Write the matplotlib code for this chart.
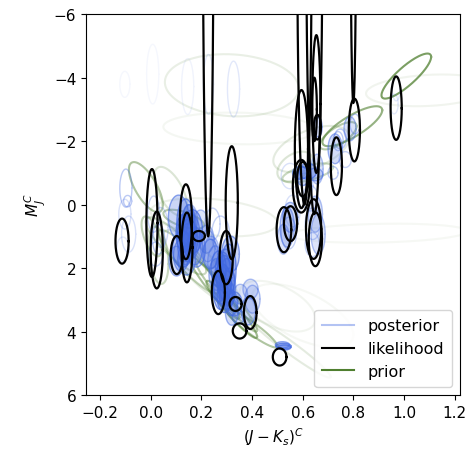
import numpy as np
import matplotlib
matplotlib.use("Agg")
import matplotlib.pyplot as plt
from matplotlib.lines import Line2D

# likelihood ellipses: centre and semi-axes in data units
like_cx = [-0.113, 0.005, 0.024, 0.103, 0.139, 0.143, 0.19, 0.227, 0.32, 0.267,
           0.298, 0.335, 0.393, 0.351, 0.509, 0.526, 0.552, 0.643, 0.65, 0.60,
           0.594, 0.595, 0.654, 0.646, 0.658, 0.733, 0.80, 0.804, 0.969, 0.607, 0.646]
like_cy = [1.15, 0.58, 1.43, 1.59, 0.54, 1.35, 0.99, -12.0, -0.06, 2.77,
           1.67, 3.13, 3.40, 3.98, 4.80, 0.79, 0.60, 0.77, 1.09, -0.80,
           -0.58, -1.75, -3.17, -3.0, -2.44, -1.21, -12.0, -2.35, -3.04, -8.0, -9.0]
like_sx = [0.026, 0.022, 0.024, 0.024, 0.024, 0.022, 0.024, 0.022, 0.024, 0.026,
           0.026, 0.024, 0.025, 0.027, 0.027, 0.029, 0.026, 0.03, 0.026, 0.022,
           0.033, 0.026, 0.016, 0.01, 0.014, 0.022, 0.012, 0.022, 0.022, 0.028, 0.032]
like_sy = [0.71, 1.70, 1.21, 0.60, 1.18, 1.10, 0.16, 13.0, 1.78, 0.68,
           0.84, 0.22, 0.52, 0.24, 0.27, 0.71, 0.55, 0.94, 0.85, 0.54,
           0.83, 1.86, 2.17, 1.0, 0.39, 0.91, 8.8, 0.99, 1.0, 8.0, 9.3]

# posterior ellipses
post_cx = [-0.098, -0.091, -0.102, -0.087, -0.110, 0.012, 0.031, 0.020, 0.039,
           0.110, 0.138, 0.150, 0.126, 0.102, 0.165, 0.142, 0.181, 0.197, 0.220,
           0.244, 0.276, 0.130, 0.145, 0.160, 0.120, 0.155, 0.175, 0.135, 0.150,
           0.236, 0.268, 0.283, 0.307, 0.315, 0.30, 0.331, 0.354, 0.386, 0.402,
           0.394, 0.346, 0.290, 0.275, 0.295, 0.318, 0.26, 0.285, 0.300, 0.270,
           0.310, 0.292, 0.320, 0.225, 0.240, 0.255,
           0.524, 0.528, 0.520,
           0.539, 0.551, 0.524, 0.590, 0.620, 0.600, 0.650, 0.630, 0.650, 0.661,
           0.638, 0.720, 0.740, 0.657, 0.661, 0.728, 0.748, 0.787, 0.807, 0.768,
           0.545, 0.550, 0.640, 0.560, 0.610,
           0.969, 0.961,
           0.008, 0.146, 0.228, 0.327, -0.102]
post_cy = [-0.52, -0.11, 0.30, 0.93, 1.40, 0.30, 1.09, 1.56, 0.72,
           0.39, 0.61, 1.09, 1.40, 1.78, 0.85, 1.72, 1.40, 0.61, 1.09,
           0.61, 0.93, 0.90, 1.20, 1.00, 1.60, 0.50, 1.30, 1.10, 0.80,
           1.56, 2.03, 2.50, 2.03, 1.56, 2.82, 3.13, 2.82, 3.35, 2.98,
           2.66, 3.54, 2.30, 2.70, 1.90, 3.10, 2.20, 2.10, 2.40, 2.55,
           2.60, 2.90, 3.40, 1.30, 1.50, 1.80,
           4.46, 4.50, 4.42,
           0.71, 0.40, 1.09, -1.00, -1.05, -0.90, -0.95, -0.20, 0.30, 0.93,
           1.26, -1.00, -2.00, -1.12, -2.44, -1.76, -2.07, -2.39, -2.54, -1.42,
           0.90, -0.90, 0.60, 0.20, -0.60,
           -3.65, -3.17,
           -4.11, -3.72, -3.79, -3.64, -3.79]
post_sx = [0.024, 0.016, 0.024, 0.028, 0.024, 0.024, 0.024, 0.028, 0.03,
           0.04, 0.035, 0.035, 0.04, 0.03, 0.04, 0.035, 0.035, 0.03, 0.03,
           0.03, 0.035, 0.03, 0.03, 0.035, 0.03, 0.03, 0.03, 0.03, 0.03,
           0.03, 0.03, 0.035, 0.03, 0.035, 0.03, 0.03, 0.028, 0.028, 0.03,
           0.03, 0.024, 0.03, 0.028, 0.03, 0.025, 0.03, 0.03, 0.03, 0.028,
           0.025, 0.03, 0.025, 0.03, 0.03, 0.03,
           0.03, 0.025, 0.028,
           0.028, 0.03, 0.024, 0.03, 0.035, 0.025, 0.03, 0.03, 0.028, 0.028,
           0.028, 0.02, 0.02, 0.024, 0.016, 0.028, 0.024, 0.024, 0.02, 0.024,
           0.03, 0.035, 0.03, 0.03, 0.03,
           0.016, 0.016,
           0.024, 0.024, 0.02, 0.024, 0.02]
post_sy = [0.60, 0.18, 0.47, 0.57, 0.38, 0.57, 0.47, 0.38, 0.63,
           0.69, 0.79, 0.63, 0.57, 0.47, 0.69, 0.50, 0.57, 0.44, 0.44,
           0.50, 0.57, 0.6, 0.6, 0.7, 0.5, 0.5, 0.6, 0.8, 0.8,
           0.47, 0.57, 0.63, 0.79, 0.57, 0.47, 0.38, 0.31, 0.44, 0.44,
           0.31, 0.22, 0.7, 0.6, 0.5, 0.4, 0.5, 0.6, 0.7, 0.5,
           0.6, 0.5, 0.4, 0.5, 0.5, 0.5,
           0.09, 0.08, 0.10,
           0.63, 0.47, 0.47, 0.20, 0.25, 0.30, 0.20, 0.40, 0.57, 0.63,
           0.38, 0.20, 0.30, 0.47, 0.31, 0.47, 0.31, 0.38, 0.31, 0.25,
           0.5, 0.40, 0.5, 0.5, 0.4,
           0.38, 0.31,
           0.94, 0.88, 0.94, 0.88, 0.41]
post_w = [0.35, 0.35, 0.2, 0.2, 0.15, 0.3, 0.35, 0.3, 0.25,
          0.6, 0.7, 0.7, 0.7, 0.5, 0.7, 0.6, 0.6, 0.4, 0.4,
          0.3, 0.3, 0.7, 0.7, 0.6, 0.6, 0.4, 0.6, 0.6, 0.6,
          0.6, 0.7, 0.7, 0.7, 0.6, 0.7, 0.6, 0.4, 0.6, 0.4,
          0.4, 0.5, 0.7, 0.7, 0.6, 0.6, 0.5, 0.7, 0.7, 0.7,
          0.6, 0.7, 0.5, 0.4, 0.4, 0.4,
          0.7, 0.7, 0.6,
          0.5, 0.5, 0.4, 0.7, 0.7, 0.6, 0.5, 0.3, 0.4, 0.4,
          0.3, 0.35, 0.35, 0.4, 0.5, 0.5, 0.35, 0.45, 0.35, 0.3,
          0.3, 0.2, 0.3, 0.2, 0.3,
          0.15, 0.15,
          0.05, 0.08, 0.15, 0.15, 0.05]

# prior ellipses (correlated), with weight
prior_cx = [1.009, 0.796, 0.74, 0.634, 1.10, 0.32, 0.35, -0.019, 0.004, 0.13,
            0.079, 0.25, 0.15, 0.25, 0.32, 0.40, 0.55, 0.20, 0.10, 0.03,
            0.50, 0.60, 0.90, 0.57, 0.62, 0.30]
prior_cy = [-4.05, -2.47, -2.17, -1.75, -3.60, -3.76, -2.40, -0.55, 1.00, 0.46,
            -0.42, 0.40, 1.80, 2.60, 3.30, 3.90, 4.50, 2.00, 1.30, 1.60,
            3.20, 3.50, 0.90, -1.20, -1.00, 2.90]
prior_sx = [0.098, 0.118, 0.073, 0.15, 0.25, 0.264, 0.30, 0.067, 0.04, 0.08,
            0.065, 0.25, 0.12, 0.10, 0.10, 0.10, 0.16, 0.15, 0.12, 0.04,
            0.15, 0.20, 0.35, 0.07, 0.10, 0.12]
prior_sy = [0.71, 0.63, 0.43, 0.73, 0.50, 0.98, 0.50, 0.79, 0.63, 0.30,
            0.77, 0.60, 1.00, 1.00, 0.90, 0.60, 0.95, 1.20, 0.90, 0.90,
            0.80, 1.00, 0.30, 0.47, 0.30, 1.10]
prior_rho = [-0.85, -0.8, -0.7, -0.5, -0.2, 0.1, 0.1, 0.7, 0.6, 0.6,
             0.6, 0.3, 0.9, 0.95, 0.95, 0.93, 0.97, 0.85, 0.85, 0.3,
             0.5, 0.6, -0.2, -0.4, -0.6, 0.96]
prior_w = [0.75, 0.6, 0.4, 0.15, 0.08, 0.12, 0.06, 0.45, 0.35, 0.4,
           0.2, 0.1, 0.35, 0.5, 0.55, 0.45, 0.15, 0.15, 0.3, 0.3,
           0.07, 0.05, 0.05, 0.2, 0.3, 0.4]

BLUE = "#4169e1"
GREEN = "#4f7f2f"


def ellipse_xy(cx, cy, sx, sy, rho=0.0, n=200):
    t = np.linspace(0, 2 * np.pi, n)
    x = cx + sx * np.cos(t)
    y = cy + sy * (rho * np.cos(t) + np.sqrt(1 - rho ** 2) * np.sin(t))
    return x, y


fig = plt.figure(figsize=(4.73, 4.60), dpi=100)
ax = fig.add_axes([0.182, 0.139, 0.790, 0.828])

for cx, cy, sx, sy, r, w in zip(prior_cx, prior_cy, prior_sx, prior_sy, prior_rho, prior_w):
    x, y = ellipse_xy(cx, cy, sx, sy, r)
    ax.plot(x, y, color=GREEN, lw=1.5, alpha=w, zorder=1)

for cx, cy, sx, sy, w in zip(post_cx, post_cy, post_sx, post_sy, post_w):
    x, y = ellipse_xy(cx, cy, sx, sy)
    if w >= 0.4:
        # dense sample regions read as solid blue
        ax.fill(x, y, color=BLUE, alpha=w * 0.45, lw=0, zorder=2)
    ax.plot(x, y, color=BLUE, lw=1.0, alpha=w, zorder=2)

for cx, cy, sx, sy in zip(like_cx, like_cy, like_sx, like_sy):
    x, y = ellipse_xy(cx, cy, sx, sy)
    ax.plot(x, y, color="black", lw=1.6, zorder=3)

ax.set_xlim(-0.255, 1.22)
ax.set_ylim(6, -6)
ax.set_xticks([-0.2, 0.0, 0.2, 0.4, 0.6, 0.8, 1.0, 1.2])
ax.set_yticks([-6, -4, -2, 0, 2, 4, 6])
ax.tick_params(labelsize=11)
ax.set_xlabel(r"$(J-K_s)^C$", fontsize=11)
ax.set_ylabel(r"$M_J^C$", fontsize=11)

handles = [Line2D([], [], color=BLUE, alpha=0.4, lw=1.5),
           Line2D([], [], color="black", lw=1.5),
           Line2D([], [], color=GREEN, lw=1.5)]
ax.legend(handles, ["posterior", "likelihood", "prior"], loc="lower right",
          fontsize=11.5, borderpad=0.5)

fig.savefig("out.png", dpi=100)
